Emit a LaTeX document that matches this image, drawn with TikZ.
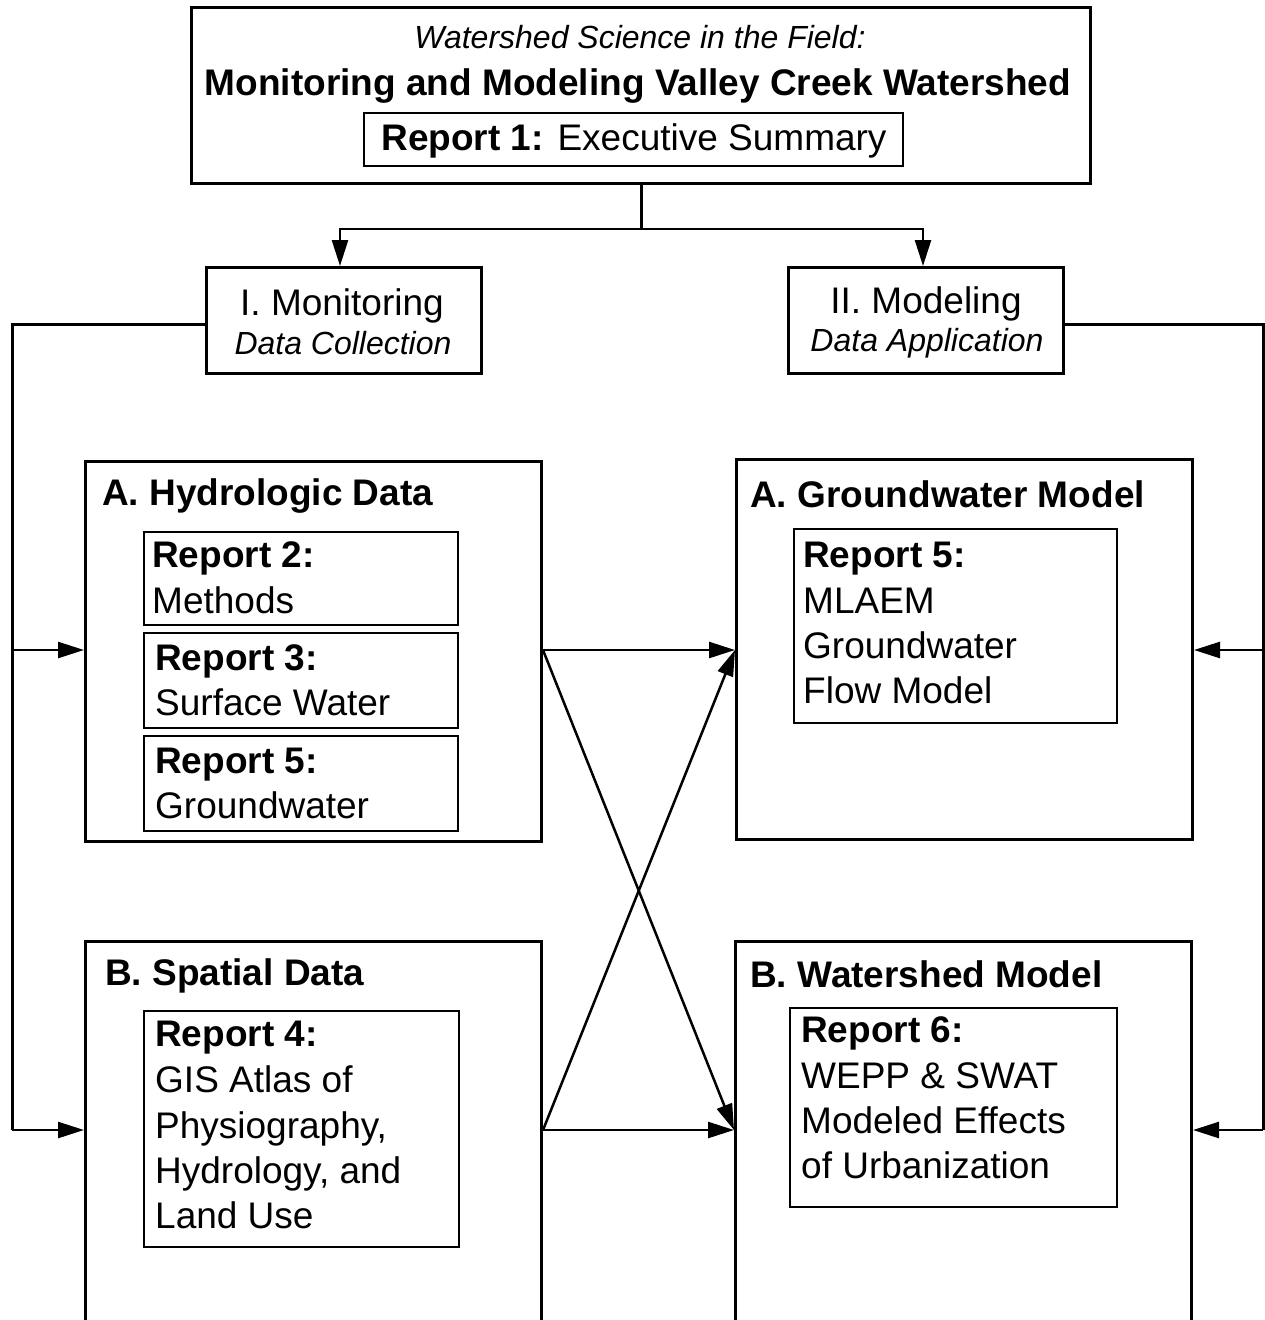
\documentclass[tikz,border=0pt]{standalone}
\usepackage{fontspec}
\setmainfont{Liberation Sans}
\usetikzlibrary{arrows.meta}
\newcommand\bigsz{\fontsize{37pt}{45pt}\selectfont}
\newcommand\itsz{\fontsize{32pt}{38pt}\selectfont\itshape}
\begin{document}
\begin{tikzpicture}[x=1pt,y=-1pt,
  outer/.style={draw, line width=3pt, anchor=north west, inner sep=0pt},
  innerbox/.style={draw, line width=2pt, anchor=north west, inner sep=0pt},
  txt/.style={anchor=base west, inner sep=0pt, font=\bigsz},
  ctxt/.style={anchor=base, inner sep=0pt, font=\bigsz},
  itxt/.style={anchor=base, inner sep=0pt, font=\itsz},
  conn/.style={line width=3pt},
  arr/.style={line width=2.5pt, -{Triangle[length=26pt,width=16pt]}}]
\useasboundingbox (0,0) rectangle (1265,1320);
\clip (0,0) rectangle (1265,1320);
% top box
\node[outer, minimum width=899pt, minimum height=176pt] (top) at (190,6) {};
\node[innerbox, minimum width=539pt, minimum height=53pt] (r1box) at (363,112) {};
\node[itxt] (t0) at (640,48) {Watershed Science in the Field:};
\node[ctxt, font=\bigsz\bfseries] (t1) at (638,95) {Monitoring and Modeling Valley Creek Watershed};
\node[ctxt] (t2) at (634,150) {\textbf{Report 1:} Executive Summary};
% level boxes
\node[outer, minimum width=275pt, minimum height=106pt] (mon) at (205,266) {};
\node[ctxt] (mon1) at (342,315) {I. Monitoring};
\node[itxt] (mon2) at (343,354) {Data Collection};
\node[outer, minimum width=275pt, minimum height=106pt] (mod) at (787,266) {};
\node[ctxt] (mod1) at (926,313) {II. Modeling};
\node[itxt] (mod2) at (927,351) {Data Application};
% hydrologic
\node[outer, minimum width=456pt, minimum height=380pt] (hydro) at (84,460) {};
\node[txt, font=\bigsz\bfseries] (h0) at (102,505) {A. Hydrologic Data};
\node[innerbox, minimum width=314pt, minimum height=93pt] (r2) at (143,531) {};
\node[txt] (r2a) at (152,567) {\textbf{Report 2:}};
\node[txt] (r2b) at (152,613) {Methods};
\node[innerbox, minimum width=314pt, minimum height=95pt] (r3) at (143,632) {};
\node[txt] (r3a) at (155,670) {\textbf{Report 3:}};
\node[txt] (r3b) at (155,715) {Surface Water};
\node[innerbox, minimum width=314pt, minimum height=95pt] (r5a) at (143,735) {};
\node[txt] (r5aa) at (155,773) {\textbf{Report 5:}};
\node[txt] (r5ab) at (155,818) {Groundwater};
% spatial
\node[outer, minimum width=456pt, minimum height=400pt] (spatial) at (84,940) {};
\node[txt, font=\bigsz\bfseries] (s0) at (105,985) {B. Spatial Data};
\node[innerbox, minimum width=315pt, minimum height=236pt] (r4) at (143,1010) {};
\node[txt] (r4a) at (155,1046) {\textbf{Report 4:}};
\node[txt] (r4b) at (155,1092) {GIS Atlas of};
\node[txt] (r4c) at (155,1138) {Physiography,};
\node[txt] (r4d) at (155,1183) {Hydrology, and};
\node[txt] (r4e) at (155,1228) {Land Use};
% groundwater model
\node[outer, minimum width=456pt, minimum height=380pt] (gw) at (735,458) {};
\node[txt, font=\bigsz\bfseries] (g0) at (750,507) {A. Groundwater Model};
\node[innerbox, minimum width=323pt, minimum height=194pt] (r5b) at (793,528) {};
\node[txt] (r5ba) at (803,567) {\textbf{Report 5:}};
\node[txt] (r5bb) at (803,613) {MLAEM};
\node[txt] (r5bc) at (803,658) {Groundwater};
\node[txt] (r5bd) at (803,703) {Flow Model};
% watershed model
\node[outer, minimum width=456pt, minimum height=400pt] (ws) at (734,940) {};
\node[txt, font=\bigsz\bfseries] (w0) at (750,987) {B. Watershed Model};
\node[innerbox, minimum width=327pt, minimum height=199pt] (r6) at (789,1007) {};
\node[txt] (r6a) at (801,1042) {\textbf{Report 6:}};
\node[txt] (r6b) at (801,1088) {WEPP \& SWAT};
\node[txt] (r6c) at (801,1133) {Modeled Effects};
\node[txt] (r6d) at (801,1178) {of Urbanization};
% connectors top
\coordinate (split) at (top.south |- 0,229);
\draw[conn] (top.south) -- (split);
\draw[arr] (split) -| ([xshift=-4pt]mon.north);
\draw[arr] (split) -| ([xshift=-3pt]mod.north);
% left feed
\coordinate (Lc) at (12,650);
\coordinate (Ld) at (12,1130);
\draw[conn] ([yshift=-4pt]mon.west) -| (Ld);
\draw[arr] (Lc) -- (Lc -| hydro.west);
\draw[arr] (Ld) -- (Ld -| spatial.west);
% right feed
\coordinate (Rc) at (1263,650);
\coordinate (Rd) at (1263,1130);
\draw[conn] ([yshift=-4pt]mod.east) -| (Rd);
\draw[arr] (Rc) -- (Rc -| gw.east);
\draw[arr] (Rd) -- (Rd -| ws.east);
% cross connectors
\coordinate (hE) at (Lc -| hydro.east);
\coordinate (gW) at (Lc -| gw.west);
\coordinate (sE) at (Ld -| spatial.east);
\coordinate (wW) at (Ld -| ws.west);
\draw[arr] (hE) -- (gW);
\draw[arr] (hE) -- (wW);
\draw[arr] (sE) -- (gW);
\draw[arr] (sE) -- (wW);
\end{tikzpicture}
\end{document}
